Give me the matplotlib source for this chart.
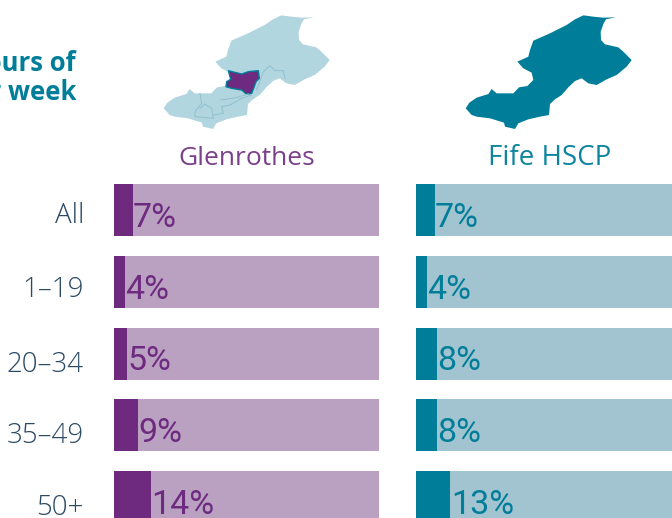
import matplotlib
matplotlib.use("Agg")
import matplotlib.pyplot as plt
from matplotlib.patches import Polygon

W, H = 672, 518
categories = ["All", "1–19", "20–34", "35–49", "50+"]
glenrothes = [7, 4, 5, 9, 14]
fife = [7, 4, 8, 8, 13]
panel_names = ["Glenrothes", "Fife HSCP"]

PURPLE, PURPLE_L = "#6D2A7F", "#BAA1C2"
TEAL, TEAL_L = "#007E99", "#A2C3D0"
MAP_L = "#B2D6E0"
NAVY = "#2A4A66"
FONT = "Open Sans"
VALUE_FONT = "Roboto"

# region outlines (3x px)
fife_outline = [(430,46),(460,50),(490,53),(527,52),(498,58),(490,72),(482,95),(483,120),(495,133),(535,142),(550,155),(575,180),(560,200),(530,225),(500,238),(470,255),(445,250),(425,235),(405,243),(385,262),(365,285),(345,298),(330,312),(327,345),(300,350),(265,358),(235,370),(225,387),(195,380),(192,368),(150,355),(110,350),(95,345),(77,325),(88,308),(110,293),(145,282),(155,267),(170,280),(220,280),(237,262),(262,258),(280,240),(275,218),(250,205),(232,185),(265,170),(270,150),(280,122),(330,100),(380,75),(405,58)]
glen_outline = [(685,212),(700,216),(725,222),(745,215),(775,212),(778,235),(768,245),(762,262),(755,280),(740,283),(725,270),(695,265),(678,260),(680,245),(692,238)]
inner_lines = [
    [(600,280),(605,310),(585,335),(585,350),(610,352),(640,355),(635,325),(615,312),(600,325)],
    [(660,300),(700,295),(745,282)],
    [(640,345),(670,340),(665,320),(690,315),(725,295),(755,285)],
    [(770,270),(790,215),(810,197),(825,212),(850,212),(855,235)],
]

fig = plt.figure(figsize=(W/100, H/100), dpi=100)
bg = fig.add_axes([0, 0, 1, 1])
bg.set_xlim(0, W); bg.set_ylim(H, 0); bg.axis("off")

def px(pts, dx=0.0):
    return [(x/3 + dx, y/3) for x, y in pts]

bg.add_patch(Polygon(px(fife_outline, 138), fc=MAP_L, ec="none"))
for line in inner_lines:
    xs, ys = zip(*px(line))
    bg.plot(xs, ys, color="#8FC0CF", lw=0.7)
bg.add_patch(Polygon(px(glen_outline), fc=PURPLE, ec=TEAL, lw=1))
bg.add_patch(Polygon(px(fife_outline, 440), fc=TEAL, ec="none"))

bg.text(76, 71, "Hours of", ha="right", va="baseline", color=TEAL, fontsize=18.5, fontweight="bold", family=FONT)
bg.text(76, 100, "per week", ha="right", va="baseline", color=TEAL, fontsize=18.5, fontweight="bold", family=FONT)
bg.text(246.5, 165, panel_names[0], ha="center", va="baseline", color=PURPLE, fontsize=19, family=FONT, alpha=0.9)
bg.text(549.5, 165, panel_names[1], ha="center", va="baseline", color=TEAL, fontsize=20, family=FONT, alpha=0.95)

ROW = 71.75
TOP = 210 - ROW/2
BH = 52/ROW

def panel(x0, values, dark, light):
    ax = fig.add_axes([x0/W, 1 - (TOP + 5*ROW)/H, 265/W, 5*ROW/H])
    ax.set_xlim(0, 100); ax.set_ylim(4.5, -0.5); ax.axis("off")
    y = range(len(values))
    ax.barh(y, [100]*len(values), height=BH, color=light, lw=0)
    ax.barh(y, values, height=BH, color=dark, lw=0)
    for i, v in enumerate(values):
        ax.annotate(f"{v}%", (v, i), xytext=(0.3, -17*0.72), textcoords="offset points",
                    ha="left", va="baseline", color=dark, fontsize=24.5, family=VALUE_FONT, annotation_clip=False)
    return ax

axl = panel(114, glenrothes, PURPLE, PURPLE_L)
axr = panel(416, fife, TEAL, TEAL_L)
label_drop = [13, 15, 18, 18, 18]
for i, c in enumerate(categories):
    axl.annotate(c, (0, i), xytext=(-30*0.72, -label_drop[i]*0.72), textcoords="offset points",
                 ha="right", va="baseline", color=NAVY, fontsize=20, family=FONT, fontweight="light", annotation_clip=False)

fig.savefig("out.png", dpi=100)
